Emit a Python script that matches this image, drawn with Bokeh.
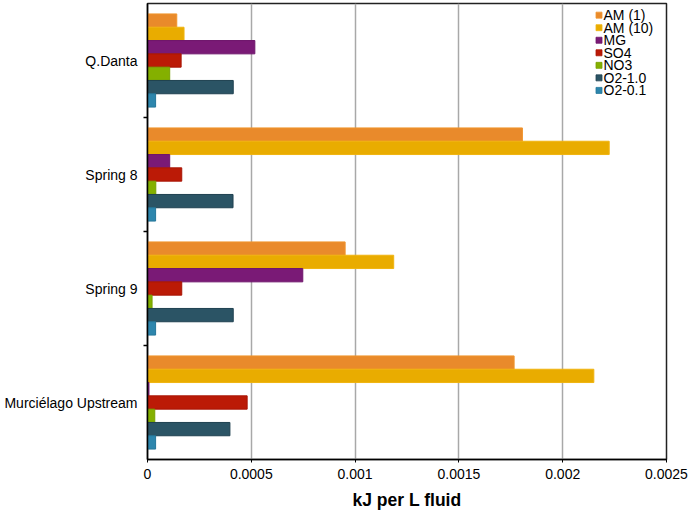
from bokeh.plotting import figure
from bokeh.models import FixedTicker, Range1d
from bokeh.core.properties import value
from bokeh.embed import file_html
from bokeh.resources import INLINE

categories = ["Q.Danta", "Spring 8", "Spring 9", "Murciélago Upstream"]
series_names = ["AM (1)", "AM (10)", "MG", "SO4", "NO3", "O2-1.0", "O2-0.1"]

am_1 = [0.000141, 0.001806, 0.000952, 0.001766]
am_10 = [0.000176, 0.002224, 0.001186, 0.002150]
mg = [0.000517, 0.000107, 0.000748, 0.000007]
so4 = [0.000162, 0.000165, 0.000165, 0.000480]
no3 = [0.000107, 0.000040, 0.000022, 0.000035]
o2_10 = [0.000413, 0.000412, 0.000413, 0.000397]
o2_01 = [0.000039, 0.000039, 0.000039, 0.000039]

series_values = [am_1, am_10, mg, so4, no3, o2_10, o2_01]
fill_colors = ["#E98A2B", "#E9AC00", "#7A1A76", "#BB1A06", "#84B000", "#2B5465", "#2D86AD"]
line_colors = ["#F0952E", "#F0B410", "#6E156B", "#A81505", "#78A000", "#1F4150", "#25779A"]

x_ticks = [0, 0.0005, 0.001, 0.0015, 0.002, 0.0025]
x_tick_labels = ["0", "0.0005", "0.001", "0.0015", "0.002", "0.0025"]

FONT = "Liberation Sans"

W, H = 690, 512
BL, BR, BT, BB = 147, 24, 3, 51
frame_w = W - BL - BR
frame_h = H - BT - BB

n = len(categories)
centers = [n - i - 0.5 for i in range(n)]
boundaries = [float(k) for k in range(1, n)]
bar_h = 0.1167
x_max = x_ticks[-1]

p = figure(width=W, height=H,
           x_range=Range1d(0, x_max), y_range=Range1d(0, n),
           output_backend="svg", toolbar_location=None,
           min_border_left=BL, min_border_right=BR,
           min_border_top=BT, min_border_bottom=BB)

m = len(series_names)
for j, vals in enumerate(series_values):
    off = ((m - 1) / 2 - j) * bar_h
    ys = [c + off for c in centers]
    p.hbar(y=ys, right=vals, left=0, height=bar_h,
           fill_color=fill_colors[j], line_color=line_colors[j], line_width=1)

# legend (top right, inside the frame), placed in pixel offsets from the frame
px_x = x_max / frame_w
px_y = n / frame_h
leg_sq_x = 451.5 * px_x
leg_tx_x = 456.0 * px_x
leg_rows_y = [n - (11.7 + 12.6 * k) * px_y for k in range(m)]
p.scatter(x=[leg_sq_x] * m, y=leg_rows_y, marker="square", size=6,
          fill_color=fill_colors, line_color=line_colors, line_width=0.8)
p.text(x=[leg_tx_x] * m, y=leg_rows_y, text=series_names,
       text_font=value(FONT), text_font_size="14px", text_color="black",
       text_baseline="middle", text_align="left")

p.outline_line_color = "#222222"
p.outline_line_width = 1.5
p.background_fill_color = "white"
p.border_fill_color = "white"

p.ygrid.visible = False
p.xgrid.ticker = FixedTicker(ticks=x_ticks)
p.xgrid.grid_line_color = "#a8a8a8"
p.xgrid.grid_line_width = 1.5

xa = p.xaxis[0]
xa.ticker = FixedTicker(ticks=x_ticks)
xa.major_label_overrides = {t: s for t, s in zip(x_ticks, x_tick_labels)}
xa.axis_line_color = "black"
xa.axis_line_width = 1.5
xa.major_tick_line_color = "black"
xa.major_tick_out = 3
xa.major_tick_in = 0
xa.minor_tick_line_color = None
xa.major_label_text_font = FONT
xa.major_label_text_font_size = "14px"
xa.major_label_text_color = "black"
xa.major_label_standoff = 6
xa.axis_label = "kJ per L fluid"
xa.axis_label_text_font = FONT
xa.axis_label_text_font_style = "bold"
xa.axis_label_text_font_size = "17.5px"
xa.axis_label_text_color = "black"
xa.axis_label_standoff = 8

ya = p.yaxis[0]
ya.ticker = FixedTicker(ticks=centers, minor_ticks=boundaries)
ya.major_label_overrides = {c: s for c, s in zip(centers, categories)}
ya.axis_line_color = "black"
ya.axis_line_width = 1.5
ya.major_tick_out = 0
ya.major_tick_in = 0
ya.minor_tick_out = 4
ya.minor_tick_in = 0
ya.minor_tick_line_color = "black"
ya.minor_tick_line_width = 1.5
ya.major_label_text_font = FONT
ya.major_label_text_font_size = "14px"
ya.major_label_text_color = "black"
ya.major_label_standoff = 6

open("out.html", "w").write(file_html(p, INLINE))
